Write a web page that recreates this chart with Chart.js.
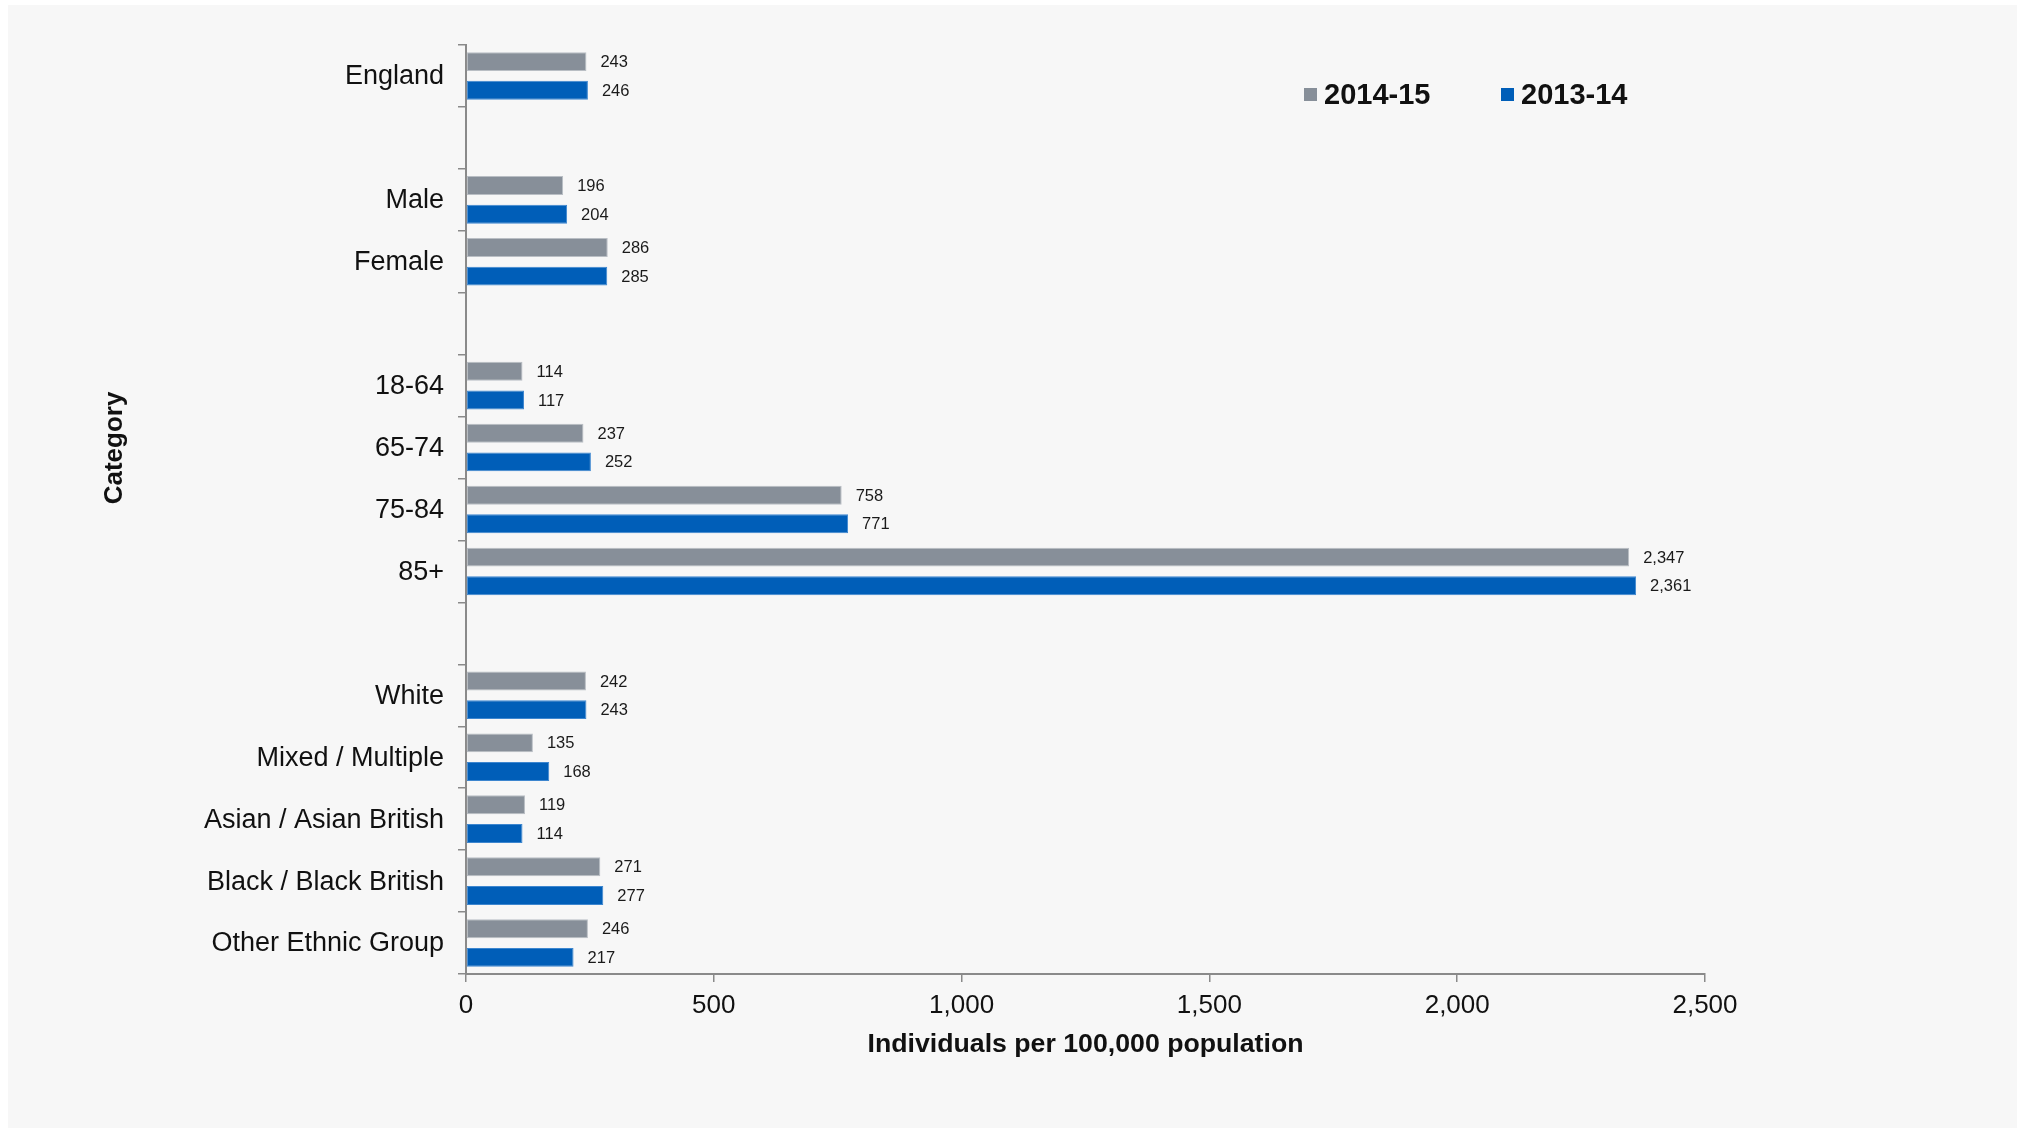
<!DOCTYPE html>
<html>
<head>
<meta charset="utf-8">
<script src="https://cdn.jsdelivr.net/npm/chart.js@4"></script>
<style>
html,body{margin:0;padding:0;background:#fff;}
canvas{display:block;}
</style>
</head>
<body>
<canvas id="c" width="2022" height="1128"></canvas>
<script>
const categories = ["England", "", "Male", "Female", "", "18-64", "65-74", "75-84", "85+", "", "White", "Mixed / Multiple", "Asian / Asian British", "Black / Black British", "Other Ethnic Group"];
const values2014_15 = [243, null, 196, 286, null, 114, 237, 758, 2347, null, 242, 135, 119, 271, 246];
const values2013_14 = [246, null, 204, 285, null, 117, 252, 771, 2361, null, 243, 168, 114, 277, 217];
const seriesLabels = ["2014-15", "2013-14"];
const xTicks = [0, 500, 1000, 1500, 2000, 2500];
const xTitle = "Individuals per 100,000 population";
const yTitle = "Category";

const FONT = "'Liberation Sans', Arial, sans-serif";
const fmt = v => v.toLocaleString('en-US');

const bgPlugin = {
  id: 'bg',
  beforeDraw(chart) {
    const ctx = chart.ctx;
    ctx.save();
    ctx.fillStyle = '#ffffff';
    ctx.fillRect(0, 0, chart.width, chart.height);
    ctx.fillStyle = '#f7f7f7';
    ctx.fillRect(8, 5, 2009, 1123);
    ctx.restore();
  }
};

const extrasPlugin = {
  id: 'extras',
  afterDraw(chart) {
    const ctx = chart.ctx;
    ctx.save();
    // data labels
    ctx.font = '16.5px ' + FONT;
    ctx.fillStyle = '#1a1a1a';
    ctx.textAlign = 'left';
    ctx.textBaseline = 'middle';
    chart.data.datasets.forEach((ds, di) => {
      const meta = chart.getDatasetMeta(di);
      meta.data.forEach((el, i) => {
        const v = ds.data[i];
        if (v === null || v === undefined) return;
        ctx.fillText(fmt(v), el.x + 14, el.y + 1);
      });
    });
    // legend
    const lx = [1304, 1501];
    chart.data.datasets.forEach((ds, di) => {
      ctx.fillStyle = ds.backgroundColor;
      ctx.fillRect(lx[di], 88, 13, 13);
      ctx.fillStyle = '#111';
      ctx.font = 'bold 29px ' + FONT;
      ctx.textAlign = 'left';
      ctx.textBaseline = 'middle';
      ctx.fillText(ds.label, lx[di] + 20, 96);
    });
    // axis titles
    const ca = chart.chartArea;
    ctx.fillStyle = '#111';
    ctx.font = 'bold 26.7px ' + FONT;
    ctx.textAlign = 'center';
    ctx.textBaseline = 'middle';
    ctx.fillText(xTitle, (ca.left + ca.right) / 2, 1045);
    ctx.font = 'bold 26px ' + FONT;
    ctx.translate(115, 448);
    ctx.rotate(-Math.PI / 2);
    ctx.fillText(yTitle, 0, 0);
    ctx.restore();
  }
};

new Chart(document.getElementById('c'), {
  type: 'bar',
  data: {
    labels: categories,
    datasets: [
      { label: seriesLabels[0], data: values2014_15, backgroundColor: '#878f99', borderColor: '#b9bec4', borderWidth: 1, borderSkipped: false },
      { label: seriesLabels[1], data: values2013_14, backgroundColor: '#005eb8', borderColor: '#3d86cf', borderWidth: 1, borderSkipped: false }
    ]
  },
  options: {
    indexAxis: 'y',
    responsive: false,
    animation: false,
    devicePixelRatio: 1,
    categoryPercentage: 0.926,
    barPercentage: 0.66,
    layout: { padding: { left: 0, top: 45, right: 317, bottom: 0 } },
    plugins: { legend: { display: false }, tooltip: { enabled: false } },
    scales: {
      x: {
        type: 'linear',
        min: 0, max: 2500,
        afterFit(scale) { scale.height = 154; },
        afterBuildTicks(scale) { scale.ticks = xTicks.map(v => ({ value: v })); },
        ticks: {
          callback: v => fmt(v),
          font: { family: FONT, size: 26 },
          color: '#111',
          padding: 8
        },
        grid: { drawOnChartArea: false, drawTicks: true, tickLength: 8, color: '#8a8a8a', lineWidth: 1.5 },
        border: { display: true, color: '#8a8a8a', width: 2 }
      },
      y: {
        type: 'category',
        afterFit(scale) { scale.width = 466; },
        ticks: {
          font: { family: FONT, size: 27 },
          color: '#111',
          padding: 14,
          labelOffset: 1
        },
        grid: { offset: true, drawOnChartArea: false, drawTicks: true, tickLength: 8, color: '#8a8a8a', lineWidth: 1.5 },
        border: { display: true, color: '#8a8a8a', width: 2 }
      }
    }
  },
  plugins: [bgPlugin, extrasPlugin]
});
</script>
</body>
</html>
